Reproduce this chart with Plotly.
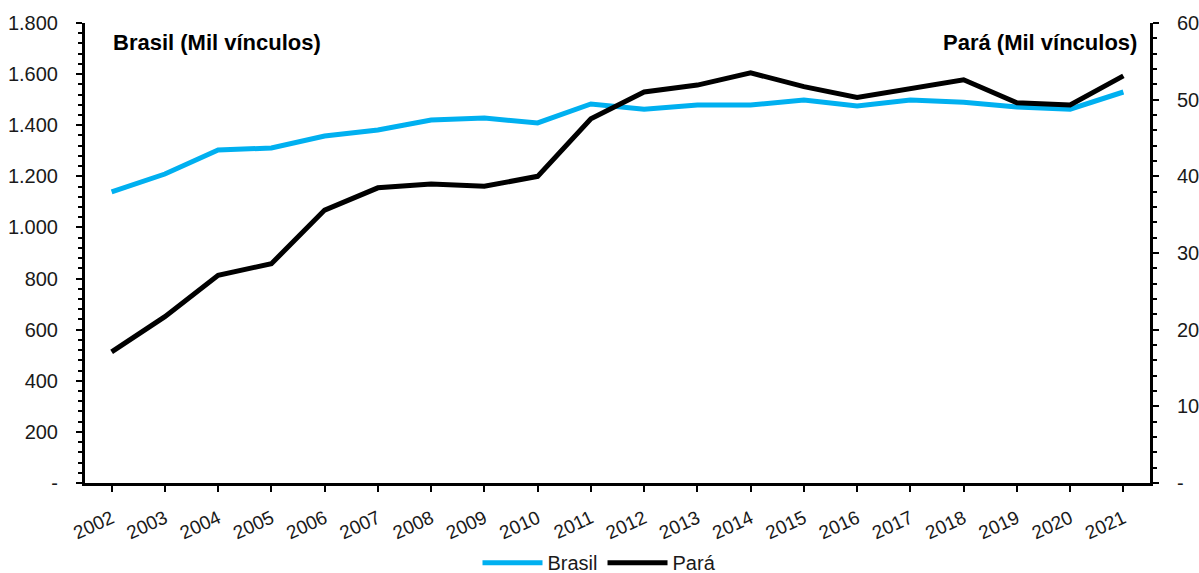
import plotly.graph_objects as go

anos = [str(a) for a in range(2002, 2022)]
brasil = [1139, 1209, 1303, 1311, 1358, 1381, 1420, 1428, 1409, 1483,
          1463, 1479, 1479, 1499, 1475, 1499, 1490, 1471, 1463, 1530]
para = [17.1, 21.7, 27.1, 28.6, 35.6, 38.5, 39.0, 38.7, 40.0, 47.5,
        51.0, 51.9, 53.5, 51.7, 50.3, 51.4, 52.6, 49.6, 49.3, 53.1]

left_vals = [0, 200, 400, 600, 800, 1000, 1200, 1400, 1600, 1800]
left_text = ["-", "200", "400", "600", "800", "1.000", "1.200", "1.400", "1.600", "1.800"]
right_vals = [0, 10, 20, 30, 40, 50, 60]
right_text = ["-", "10", "20", "30", "40", "50", "60"]

FONT = "Liberation Sans, Arial, sans-serif"
AZUL = "#00B0F0"

fig = go.Figure()
fig.add_trace(go.Scatter(x=anos, y=brasil, name="Brasil", mode="lines",
                         line=dict(color=AZUL, width=5), yaxis="y"))
fig.add_trace(go.Scatter(x=anos, y=para, name="Pará", mode="lines",
                         line=dict(color="black", width=5), yaxis="y2"))

fig.update_layout(
    width=1199, height=573,
    margin=dict(l=85, r=49, t=23, b=90, autoexpand=False),
    paper_bgcolor="white", plot_bgcolor="white",
    font=dict(family=FONT, size=20, color="#1a1a1a"),
    showlegend=True,
    legend=dict(orientation="h", x=0.5, xanchor="center", xref="container",
                y=0.018, yanchor="middle", yref="container",
                font=dict(size=20), itemwidth=60),
    xaxis=dict(type="category", range=[-0.5, 19.5], showgrid=False,
               showline=True, linecolor="black", linewidth=3,
               ticks="outside", ticklen=6, tickwidth=2, tickcolor="black",
               tickangle=-25, tickfont=dict(size=19), zeroline=False,
               ticklabelstandoff=8, automargin=False),
    yaxis=dict(range=[0, 1800], showgrid=False, showline=True, linecolor="black",
               linewidth=3, tickvals=left_vals, ticktext=left_text,
               ticks="outside", ticklen=6, tickwidth=2, tickcolor="black",
               ticklabelstandoff=14, zeroline=False, automargin=False,
               minor=dict(dtick=40, tick0=0, ticks="outside", ticklen=4,
                          tickwidth=1.5, tickcolor="black")),
    yaxis2=dict(range=[0, 60], overlaying="y", side="right", showgrid=False,
                showline=True, linecolor="black", linewidth=3,
                tickvals=right_vals, ticktext=right_text,
                ticks="outside", ticklen=6, tickwidth=2, tickcolor="black",
                ticklabelstandoff=14, zeroline=False, automargin=False,
                minor=dict(dtick=2, tick0=0, ticks="outside", ticklen=4,
                           tickwidth=1.5, tickcolor="black")),
    annotations=[
        dict(text="<b>Brasil (Mil vínculos)</b>", xref="paper", yref="paper",
             x=0.024, y=0.99, xanchor="left", yanchor="top", showarrow=False,
             font=dict(size=22, color="black")),
        dict(text="<b>Pará (Mil vínculos)</b>", xref="paper", yref="paper",
             x=0.99, y=0.99, xanchor="right", yanchor="top", showarrow=False,
             font=dict(size=22, color="black")),
    ],
)

fig.write_html("out.html")
